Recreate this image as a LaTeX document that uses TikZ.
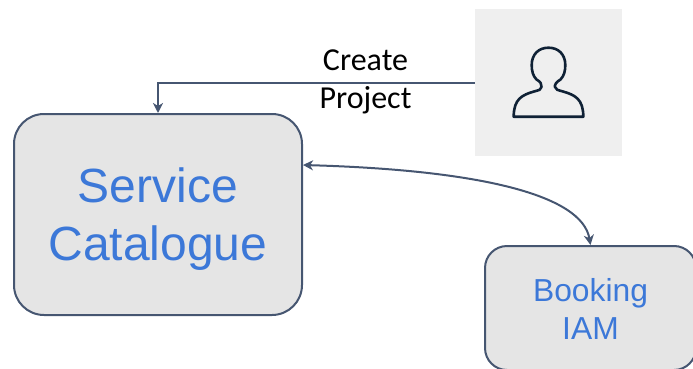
\documentclass[tikz,border=0pt]{standalone}
\usepackage{fontspec}
\setmainfont{Liberation Sans}
\newfontfamily\labelfont{Carlito}
\usetikzlibrary{arrows.meta,positioning}
\definecolor{edgeblue}{HTML}{465671}
\definecolor{boxgrey}{HTML}{E5E5E5}
\definecolor{textblue}{HTML}{3C78D8}
\definecolor{tilegrey}{HTML}{EFEFEF}
\definecolor{icondark}{HTML}{0F2135}
\newcommand{\lowered}[2]{\raisebox{-#1}[\height][\depth]{#2}}
\tikzset{
  x=1pt,y=1pt,
  svcbox/.style={draw=edgeblue,line width=2pt,fill=boxgrey,inner sep=0pt,text=textblue,align=center},
  conn/.style={draw=edgeblue,line width=2pt},
  tip/.tip={Stealth[inset=3pt,length=10pt,width=10pt,fill=edgeblue]},
}
\begin{document}
\begin{tikzpicture}
\useasboundingbox (0,0) rectangle (693,-369);
\node[svcbox,rounded corners=30pt,minimum width=288pt,minimum height=201pt,
  font=\fontsize{48pt}{58pt}\selectfont] (svc) at (158,-214.5) {\lowered{5pt}{Service}\\\lowered{5pt}{Catalogue}};
\node[svcbox,rounded corners=22pt,minimum width=211pt,minimum height=124pt,
  font=\fontsize{31.8pt}{38pt}\selectfont] (iam) at (590.5,-308) {\lowered{1pt}{Booking}\\\lowered{1pt}{IAM}};
\node[fill=tilegrey,minimum width=147pt,minimum height=147pt,inner sep=0pt] (user) at (548.5,-82.5) {};
\draw[icondark,line width=2.6pt,line join=round]
  (541.5,-87) .. controls (541.5,-84) and (541,-82) .. (536.5,-79.5)
  .. controls (533,-76) and (531.7,-71) .. (531.7,-65)
  .. controls (531.7,-54) and (539,-47.7) .. (548.5,-47.7)
  .. controls (558,-47.7) and (565.3,-54) .. (565.3,-65)
  .. controls (565.3,-71) and (564,-76) .. (560.5,-79.5)
  .. controls (556,-82) and (554.5,-85) .. (555,-87)
  .. controls (555.5,-90) and (558,-90) .. (563,-91.5)
  .. controls (575,-95) and (583.3,-99) .. (583.3,-116.7)
  -- (513.7,-116.7)
  .. controls (513.7,-99) and (522,-95) .. (534,-91.5)
  .. controls (539,-90) and (541.5,-90) .. (541.5,-87) -- cycle;
\node[font=\labelfont\fontsize{32pt}{38pt}\selectfont,align=center,inner sep=0pt] (lab) at (365.5,-82) {Create\\Project};
\draw[conn,-{tip}] (user.west) -| (svc.north);
\coordinate (sa) at (svc.east |- 0,-165);
\draw[conn,{tip}-{tip}] (sa) .. controls (480,-170) and (582,-195) .. (iam.north);
\end{tikzpicture}
\end{document}
